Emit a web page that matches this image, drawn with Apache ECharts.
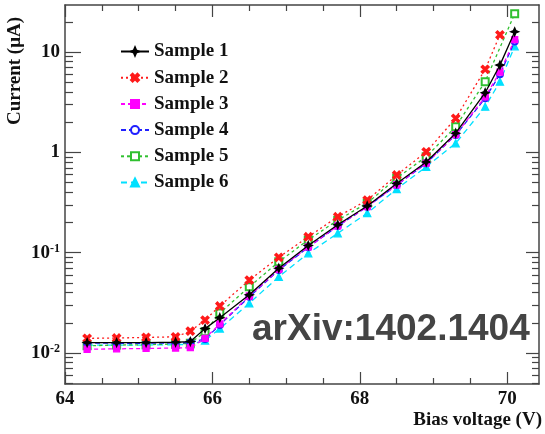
<!DOCTYPE html>
<html>
<head>
<meta charset="utf-8">
<script src="https://cdn.jsdelivr.net/npm/echarts@6/dist/echarts.min.js"></script>
<style>html,body{margin:0;padding:0;background:#fff;}#c{width:545px;height:434px;}</style>
</head>
<body>
<div id="c"></div>
<script>
// ---- data ----
const voltages = [64.3, 64.7, 65.1, 65.5, 65.7, 65.9, 66.1, 66.5, 66.9, 67.3, 67.7, 68.1, 68.5, 68.9, 69.3, 69.7, 69.9, 70.1];
const sample1 = [0.0127, 0.0127, 0.0127, 0.0128, 0.0130, 0.0175, 0.0225, 0.038, 0.070, 0.118, 0.190, 0.292, 0.49, 0.80, 1.55, 3.93, 7.4, 15.9];
const sample2 = [0.0140, 0.0141, 0.0143, 0.0145, 0.0165, 0.0213, 0.0294, 0.0533, 0.0897, 0.144, 0.228, 0.334, 0.594, 1.01, 2.18, 6.72, 14.8, null];
const sample3 = [0.0109, 0.0110, 0.0111, 0.0112, 0.0113, 0.0140, 0.0195, 0.037, 0.068, 0.114, 0.185, 0.288, 0.475, 0.78, 1.50, 3.58, 6.3, 13.3];
const sample4 = [0.0126, 0.0125, 0.0125, 0.0126, 0.0127, 0.0138, 0.0190, 0.0363, 0.0671, 0.113, 0.184, 0.287, 0.472, 0.777, 1.49, 3.45, 6.0, 12.7];
const sample5 = [0.0118, 0.0120, 0.0121, 0.0123, 0.0125, 0.0163, 0.0250, 0.0457, 0.0811, 0.134, 0.211, 0.312, 0.555, 0.904, 1.80, 5.06, null, 24];
const sample6 = [0.0120, 0.0120, 0.0120, 0.0121, 0.0122, 0.0133, 0.0175, 0.0313, 0.0575, 0.0984, 0.156, 0.248, 0.431, 0.718, 1.23, 2.85, 5.06, 11.4];
const seriesNames = ['Sample 1', 'Sample 2', 'Sample 3', 'Sample 4', 'Sample 5', 'Sample 6'];
const xMajorTicks = [64, 66, 68, 70];
const xMinorTicks = [64.5, 65, 65.5, 66.5, 67, 67.5, 68.5, 69, 69.5];
const yMajorTicks = [0.01, 0.1, 1, 10];
const yMinorTicks = [0.005, 0.006, 0.007, 0.008, 0.009,
  0.02, 0.03, 0.04, 0.05, 0.06, 0.07, 0.08, 0.09,
  0.2, 0.3, 0.4, 0.5, 0.6, 0.7, 0.8, 0.9,
  2, 3, 4, 5, 6, 7, 8, 9, 20];
const yTickLabels = {'0.01': ['10', '-2'], '0.1': ['10', '-1'], '1': ['1', ''], '10': ['10', '']};
const xTitle = 'Bias voltage (V)';
const yTitle = 'Current (\u03bcA)';
const watermark = 'arXiv:1402.1404';

// ---- chart ----
const FONT = 'Liberation Serif';
const AX = '#444';
const X_MIN = 64, X_MAX = 70.43, Y_MIN = 0.00491, Y_MAX = 29.4;

function xAxisDef(pos, ticks, len, labels, line) {
  return {
    type: 'value', position: pos, min: X_MIN, max: X_MAX,
    axisLine: {show: line, onZero: false, lineStyle: {color: AX, width: 1.5}},
    axisTick: {show: true, inside: true, length: len, customValues: ticks, lineStyle: {color: AX, width: 1.2}},
    axisLabel: {show: labels, customValues: ticks, margin: 6, color: '#111',
      fontFamily: FONT, fontWeight: 'bold', fontSize: 19},
    splitLine: {show: false}
  };
}
function yAxisDef(pos, ticks, len, labels, line) {
  return {
    type: 'log', logBase: 10, position: pos, min: Y_MIN, max: Y_MAX,
    axisLine: {show: line, onZero: false, lineStyle: {color: AX, width: 1.5}},
    axisTick: {show: true, inside: true, length: len, customValues: ticks, lineStyle: {color: AX, width: 1.2}},
    axisLabel: {show: labels, customValues: ticks, margin: 5,
      formatter: function (v) {
        const key = String(+v.toPrecision(3));
        const p = yTickLabels[key] || [String(v), ''];
        return p[1] ? '{b|' + p[0] + '}{s|' + p[1] + '}' : '{b|' + p[0] + '}';
      },
      rich: {
        b: {fontFamily: FONT, fontWeight: 'bold', fontSize: 19, color: '#111', lineHeight: 20},
        s: {fontFamily: FONT, fontWeight: 'bold', fontSize: 12, color: '#111', verticalAlign: 'top', lineHeight: 20, padding: [0, 0, 6, 0]}
      }},
    splitLine: {show: false}, minorTick: {show: false}
  };
}

const styles = [
  {color: '#000000', type: 'solid', symbol: 'path://M0,-1 L0.3,-0.3 L1,0 L0.3,0.3 L0,1 L-0.3,0.3 L-1,0 L-0.3,-0.3 Z', size: 8},
  {color: '#ff1a1a', type: [2, 3], symbol: 'path://M-1,-0.6 L-0.6,-1 L0,-0.4 L0.6,-1 L1,-0.6 L0.4,0 L1,0.6 L0.6,1 L0,0.4 L-0.6,1 L-1,0.6 L-0.4,0 Z', size: 8},
  {color: '#ff00ff', type: [4, 3], symbol: 'rect', size: 6},
  {color: '#2020ff', type: [5, 3], symbol: 'emptyCircle', size: 6},
  {color: '#30c030', type: [3, 3], symbol: 'emptyRect', size: 7},
  {color: '#00e0ff', type: [6, 4], symbol: 'triangle', size: 7}
];
const values = [sample1, sample2, sample3, sample4, sample5, sample6];

const series = values.map(function (vals, k) {
  const st = styles[k];
  return {
    name: seriesNames[k], type: 'line', xAxisIndex: 0, yAxisIndex: 0,
    data: voltages.map(function (v, i) { return [v, vals[i]]; }).filter(function (d) { return d[1] != null; }),
    symbol: st.symbol, symbolSize: st.size,
    lineStyle: {color: st.color, width: 1.3, type: st.type},
    itemStyle: {color: st.color, borderColor: st.color, borderWidth: 1.3},
    emphasis: {disabled: true},
    animation: false, z: 10 - k
  };
});

const chart = echarts.init(document.getElementById('c'), null, {renderer: 'canvas'});
chart.setOption({
  animation: false,
  backgroundColor: '#fff',
  grid: {left: 65, right: 6, top: 5, bottom: 50, containLabel: false},
  xAxis: [
    xAxisDef('bottom', xMajorTicks, 12, true, true),
    xAxisDef('bottom', xMinorTicks, 6, false, false),
    xAxisDef('top', xMajorTicks, 12, false, true),
    xAxisDef('top', xMinorTicks, 6, false, false)
  ],
  yAxis: [
    yAxisDef('left', yMajorTicks, 16, true, true),
    yAxisDef('left', yMinorTicks, 8, false, false),
    yAxisDef('right', yMajorTicks, 13, false, true),
    yAxisDef('right', yMinorTicks, 7, false, false)
  ],
  legend: {
    orient: 'vertical', left: 115, top: 37, itemWidth: 28, itemHeight: 10, itemGap: 7.2,
    data: seriesNames,
    textStyle: {fontFamily: FONT, fontWeight: 'bold', fontSize: 19, color: '#111'}
  },
  graphic: [
    {type: 'text', x: 15, y: 71, rotation: Math.PI / 2,
      style: {text: yTitle, fontFamily: FONT, fontWeight: 'bold', fontSize: 19, fill: '#111', align: 'center', verticalAlign: 'middle'}},
    {type: 'text', x: 542, y: 420,
      style: {text: xTitle, fontFamily: FONT, fontWeight: 'bold', fontSize: 19, fill: '#111', align: 'right', verticalAlign: 'middle'}},
    {type: 'text', x: 252, y: 330, z: 100,
      style: {text: watermark, fontFamily: 'Liberation Sans', fontWeight: 'bold', fontSize: 37, fill: '#444', align: 'left', verticalAlign: 'middle'}}
  ],
  series: series
});
</script>
</body>
</html>
